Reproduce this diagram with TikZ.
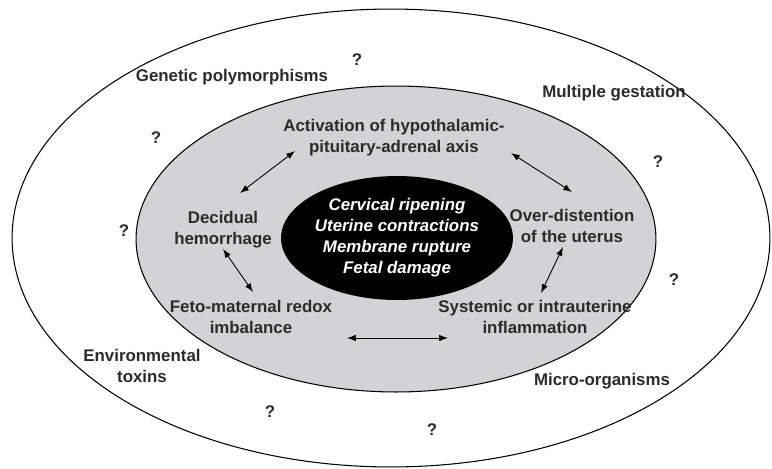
\documentclass[tikz,border=0pt]{standalone}
\usepackage{fontspec}
\setsansfont{Liberation Sans}
\usetikzlibrary{arrows.meta,shapes.geometric}
\definecolor{inkgray}{HTML}{2B2B2B}
\definecolor{zonegray}{HTML}{D3D3D5}
\begin{document}
\begin{tikzpicture}[x=0.02cm, y=-0.02cm]
            \tikzstyle{zone} = [draw=black, line width=0.6pt]
            \tikzstyle{label} = [text=inkgray, font=\sffamily\bfseries\fontsize{9.6}{12}\selectfont, align=center, inner sep=1pt]
            \tikzstyle{ask} = [label]
            \tikzstyle{core} = [ellipse, fill=black, text=white, font=\sffamily\bfseries\itshape\fontsize{9.6}{12}\selectfont, align=center, minimum width=3.88cm, minimum height=2.48cm, inner sep=0pt]
            \tikzstyle{link} = [line width=0.5pt, >={Latex[length=5pt, width=3.6pt]}, <->]
            \useasboundingbox (0, 0) rectangle (772, 468);
            \draw[zone, fill=white] (391, 238) ellipse [x radius=7.58cm, y radius=4.58cm];
            \draw[zone, fill=zonegray] (396, 239) ellipse [x radius=5.2cm, y radius=3.06cm];
            \node[core] (core) at (397, 238) {Cervical ripening\\Uterine contractions\\Membrane rupture\\Fetal damage};
            \node[label] (genetic) at (232, 77) {Genetic polymorphisms};
            \node[label] (multiple) at (614, 93) {Multiple gestation};
            \node[label] (envtox) at (142, 366) {Environmental\\toxins};
            \node[label] (micro) at (602, 381) {Micro-organisms};
            \node[ask] (q1) at (357, 60) {?};
            \node[ask] (q2) at (156, 138) {?};
            \node[ask] (q3) at (658, 162) {?};
            \node[ask] (q4) at (124, 231) {?};
            \node[ask] (q5) at (674, 280) {?};
            \node[ask] (q6) at (270, 412) {?};
            \node[ask] (q7) at (432, 430) {?};
            \node[label] (activation) at (394, 138) {Activation of hypothalamic-\\pituitary-adrenal axis};
            \node[label] (decidual) at (223, 230) {Decidual\\hemorrhage};
            \node[label] (overdist) at (572, 226) {Over-distention\\of the uterus};
            \node[label] (redox) at (251, 317) {Feto-maternal redox\\imbalance};
            \node[label] (inflam) at (535, 317) {Systemic or intrauterine\\inflammation};
            \draw[link] ([shift={(17, -37)}]decidual.center) -- ([shift={(-99, 13)}]activation.center);
            \draw[link] ([shift={(117, 15)}]activation.center) -- ([shift={(0, -34)}]overdist.center);
            \draw[link] ([shift={(0, 19)}]decidual.center) -- ([shift={(2, -25)}]redox.center);
            \draw[link] ([shift={(-9, 21)}]overdist.center) -- ([shift={(6, -24)}]inflam.center);
            \draw[link] ([shift={(96, 21)}]redox.center) -- ([shift={(-87, 21)}]inflam.center);
        \end{tikzpicture}
\end{document}
